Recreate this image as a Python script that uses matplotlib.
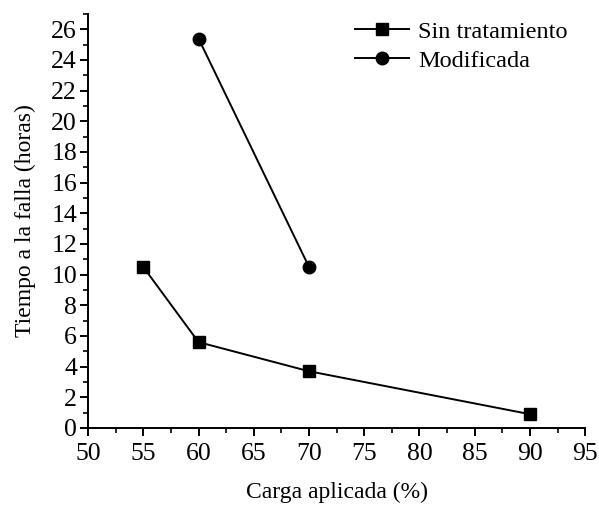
import matplotlib as mpl
mpl.use('agg')
import matplotlib.pyplot as plt
from matplotlib.ticker import MultipleLocator

# data
carga_sin = [55, 60, 70, 90]
tiempo_sin = [10.5, 5.6, 3.7, 0.9]
carga_mod = [60, 70]
tiempo_mod = [25.4, 10.5]

plt.rcParams['font.family'] = ['Liberation Serif', 'DejaVu Serif']
plt.rcParams['font.size'] = 17

fig = plt.figure(figsize=(5.99, 5.08), dpi=100)
ax = fig.add_axes([0.147, 0.1575, 0.83, 0.815])

ax.plot(carga_sin, tiempo_sin, color='black', lw=1.4, marker='s', ms=8, label='Sin tratamiento')
ax.plot(carga_mod, tiempo_mod, color='black', lw=1.4, marker='o', ms=9, label='Modificada')

ax.set_xlim(50, 95)
ax.set_ylim(0, 27)
ax.xaxis.set_major_locator(MultipleLocator(5))
ax.xaxis.set_minor_locator(MultipleLocator(2.5))
ax.yaxis.set_major_locator(MultipleLocator(2))
ax.yaxis.set_minor_locator(MultipleLocator(1))
ax.spines['top'].set_visible(False)
ax.spines['right'].set_visible(False)
ax.spines['left'].set_linewidth(1.4)
ax.spines['bottom'].set_linewidth(1.4)
ax.tick_params(which='major', direction='out', length=6, width=1.4, labelsize=18.5)
ax.tick_params(axis='x', which='major', pad=5)
ax.tick_params(axis='y', which='major', pad=2)
ax.tick_params(which='minor', direction='out', length=3.5, width=1.2)

ax.set_xlabel('Carga aplicada (%)', labelpad=12)
ax.set_ylabel('Tiempo a la falla (horas)', labelpad=11)

ax.legend(loc='upper right', frameon=False, handlelength=2.25, handletextpad=0.35,
          labelspacing=0.3, fontsize=17.5, bbox_to_anchor=(1.008, 1.037))

fig.savefig('out.png', dpi=100)
